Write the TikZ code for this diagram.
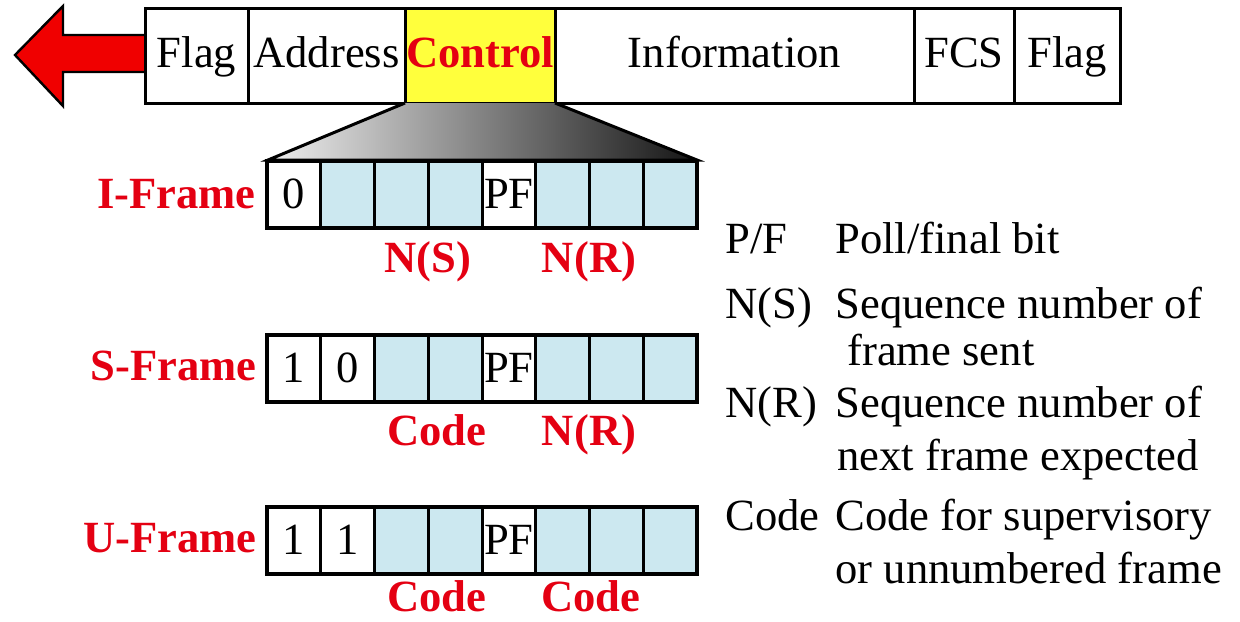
\documentclass[tikz,border=0pt]{standalone}
\usepackage{fontspec}
\setmainfont{Liberation Serif}
\definecolor{hdlcred}{RGB}{228,0,18}
\definecolor{arrowred}{RGB}{240,0,0}
\definecolor{bitblue}{RGB}{204,232,240}
\definecolor{ctrlyellow}{RGB}{255,255,60}

% one row of eight control-field bits: #1 name prefix, #2 top edge, #3 index/fill/text list
\newcommand\hdlcrow[3]{%
  \foreach \i/\f/\t in {#3} {
    \draw[fill=\f, line width=1.5pt] ({267+53.75*\i},#2) rectangle ({267+53.75*(\i+1)},#2+67);
    \node[txt, anchor=base] (#1\i) at ({267+53.75*(\i+0.5)},#2+47) {\t};
  }
  \draw[line width=2.2pt] (267,#2) rectangle (697,#2+67);
}

\begin{document}
\begin{tikzpicture}[x=0.5pt,y=-0.5pt,
  txt/.style={font=\fontsize{22.3}{26}\selectfont, inner sep=0pt},
  lbl/.style={font=\fontsize{22.3}{26}\selectfont\bfseries, text=hdlcred, inner sep=0pt},
  box/.style={draw=black, line width=1.5pt}]
\useasboundingbox (0,0) rectangle (1240,621);

% direction of transmission
\draw[fill=arrowred, line width=1.2pt, line join=miter]
  (145,35) -- (63,35) -- (63,6) -- (15,55) -- (63,106) -- (63,72) -- (145,72);

% HDLC frame
\draw[box, fill=ctrlyellow] (405,8) rectangle (555,103);
\draw[box, fill=white] (145,8) rectangle (405,103);
\draw[box, fill=white] (555,8) rectangle (1120,103);
\foreach \x in {248,914,1014} \draw[box] (\x,8) -- (\x,103);

\node[txt, anchor=base] (flag1) at (196.5,67) {Flag};
\node[txt, anchor=base] (addr)  at (326.5,67) {Address};
\node[lbl, anchor=base] (ctrl)  at (480,67) {Control};
\node[txt, anchor=base] (info)  at (734.5,67) {Information};
\node[txt, anchor=base] (fcs)   at (964,67) {FCS};
\node[txt, anchor=base] (flag2) at (1067,67) {Flag};

% expansion of the control field
\shade[left color=gray!12, right color=black!92]
  (405,103) -- (555,103) -- (697,160) -- (268,160) -- cycle;
\draw[line width=1.5pt, line join=miter]
  (405,103) -- (268,160) -- (697,160) -- (555,103);

% control field formats
\hdlcrow{ib}{161}{0/white/0,1/bitblue/{},2/bitblue/{},3/bitblue/{},4/white/PF,5/bitblue/{},6/bitblue/{},7/bitblue/{}}
\hdlcrow{sb}{335}{0/white/1,1/white/0,2/bitblue/{},3/bitblue/{},4/white/PF,5/bitblue/{},6/bitblue/{},7/bitblue/{}}
\hdlcrow{ub}{507}{0/white/1,1/white/1,2/bitblue/{},3/bitblue/{},4/white/PF,5/bitblue/{},6/bitblue/{},7/bitblue/{}}

\node[lbl, anchor=base east] (iframe) at (256,208) {I-Frame};
\node[lbl, anchor=base east] (sframe) at (257,380) {S-Frame};
\node[lbl, anchor=base east] (uframe) at (257,552) {U-Frame};

\node[lbl, anchor=base] (ns)    at (428,272) {N(S)};
\node[lbl, anchor=base] (nr1)   at (589,272) {N(R)};
\node[lbl, anchor=base] (code1) at (437,445) {Code};
\node[lbl, anchor=base] (nr2)   at (589,445) {N(R)};
\node[lbl, anchor=base] (code2) at (437,611) {Code};
\node[lbl, anchor=base] (code3) at (591,611) {Code};

% legend
\node[txt, anchor=base west] (kpf)   at (725,253) {P/F};
\node[txt, anchor=base west] (dpf)   at (835,253) {Poll/final bit};
\node[txt, anchor=base west] (kns)   at (725,318) {N(S)};
\node[txt, anchor=base west] (dns1)  at (835,318) {Sequence number of};
\node[txt, anchor=base west] (dns2)  at (847,365) {frame sent};
\node[txt, anchor=base west] (knr)   at (725,417) {N(R)};
\node[txt, anchor=base west] (dnr1)  at (835,417) {Sequence number of};
\node[txt, anchor=base west] (dnr2)  at (837,470) {next frame expected};
\node[txt, anchor=base west] (kcode) at (725,530) {Code};
\node[txt, anchor=base west] (dcd1)  at (835,530) {Code for supervisory};
\node[txt, anchor=base west] (dcd2)  at (835,583) {or unnumbered frame};
\end{tikzpicture}
\end{document}
